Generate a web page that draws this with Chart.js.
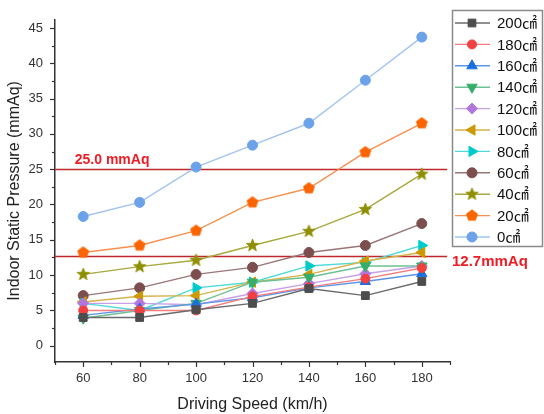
<!DOCTYPE html>
<html><head><meta charset="utf-8">
<script src="https://cdn.jsdelivr.net/npm/chart.js@4/dist/chart.umd.min.js"></script>
<style>html,body{margin:0;padding:0;background:#fff}#wrap{width:544px;height:414px}</style>
</head><body><div id="wrap"><canvas id="c" width="544" height="414"></canvas></div>
<script>
// ---- data ----
const speeds = [60, 80, 100, 120, 140, 160, 180];
const seriesNames = ['200㎠','180㎠','160㎠','140㎠','120㎠','100㎠','80㎠','60㎠','40㎠','20㎠','0㎠'];
const s200 = [4.0, 4.0, 5.1, 6.0, 8.1, 7.1, 9.1];
const s180 = [5.0, 5.0, 5.0, 7.0, 8.3, 9.5, 11.0];
const s160 = [4.3, 5.2, 5.9, 6.8, 8.2, 9.1, 10.2];
const s140 = [3.9, 5.0, 6.0, 9.0, 9.7, 11.3, 11.3];
const s120 = [6.0, 6.0, 5.8, 7.4, 8.8, 10.2, 11.3];
const s100 = [6.2, 7.0, 7.1, 9.0, 10.1, 12.0, 13.2];
const s80  = [6.0, 5.0, 8.2, 9.0, 11.3, 11.8, 14.2];
const s60  = [7.1, 8.2, 10.1, 11.1, 13.2, 14.2, 17.3];
const s40  = [10.1, 11.2, 12.1, 14.2, 16.2, 19.3, 24.3];
const s20  = [13.2, 14.2, 16.3, 20.3, 22.3, 27.4, 31.5];
const s0   = [18.3, 20.3, 25.3, 28.4, 31.5, 37.6, 43.7];
const xTickLabels = [60, 80, 100, 120, 140, 160, 180];
const yTickLabels = [0, 5, 10, 15, 20, 25, 30, 35, 40, 45];
const refValues = [25.0, 12.7];
const refLabels = ['25.0 mmAq', '12.7mmAq'];

// ---- styles ----
const colors = ['#4d4d4d','#f14040','#1a6fdf','#37ad6b','#b177de','#cc9900','#00cbcc','#7d4e4e','#8e8e00','#fb6501','#6ca2ea'];
const lineColors = ['#6a6a6a','#f37c7c','#5c95e6','#6cc193','#c7a1e6','#d6b24a','#4fd9d9','#9a7676','#a8a83d','#f99050','#a2c4ef'];

function polyCanvas(color, n, rOut, rIn) {
  const c = document.createElement('canvas');
  const s = Math.ceil(rOut * 2 + 2);
  c.width = s; c.height = s;
  const g = c.getContext('2d');
  g.fillStyle = color; g.strokeStyle = color; g.lineWidth = 0.8;
  g.beginPath();
  const pts = rIn ? n * 2 : n;
  for (let i = 0; i < pts; i++) {
    const r = rIn ? (i % 2 ? rIn : rOut) : rOut;
    const a = -Math.PI / 2 + i * 2 * Math.PI / pts;
    const x = s / 2 + r * Math.cos(a), y = s / 2 + r * Math.sin(a);
    i ? g.lineTo(x, y) : g.moveTo(x, y);
  }
  g.closePath(); g.fill(); g.stroke();
  return c;
}
const starImg = polyCanvas('#8e8e00', 5, 6.5, 2.8);
const pentImg = polyCanvas('#fb6501', 5, 5.8, 0);

const styles = [
  {ps:'rect', r:5.5, rot:0},
  {ps:'circle', r:4.5, rot:0},
  {ps:'triangle', r:6, rot:0},
  {ps:'triangle', r:6, rot:180},
  {ps:'rectRot', r:5.5, rot:0},
  {ps:'triangle', r:6, rot:-90},
  {ps:'triangle', r:6, rot:90},
  {ps:'circle', r:5, rot:0},
  {ps:starImg, r:6, rot:0},
  {ps:pentImg, r:6, rot:0},
  {ps:'circle', r:5, rot:0}
];
const allSeries = [s200, s180, s160, s140, s120, s100, s80, s60, s40, s20, s0];

const datasets = allSeries.map((vals, i) => ({
  label: seriesNames[i],
  data: speeds.map((x, j) => ({x: x, y: vals[j]})),
  borderColor: lineColors[i],
  backgroundColor: colors[i],
  borderWidth: 1.4,
  pointStyle: styles[i].ps,
  pointRadius: styles[i].r,
  pointRotation: styles[i].rot,
  pointBackgroundColor: colors[i],
  pointBorderColor: colors[i],
  pointBorderWidth: 1,
  tension: 0
}));

const FONT = "'Liberation Sans', Arial, 'Noto Sans CJK KR', sans-serif";

const decor = {
  id: 'decor',
  beforeDatasetsDraw(chart) {
    const {ctx} = chart; const xs = chart.scales.x, ys = chart.scales.y;
    ctx.save();
    ctx.strokeStyle = '#c0282d'; ctx.lineWidth = 1.5;
    refValues.forEach(v => {
      const y = Math.round(ys.getPixelForValue(v)) + 0.5;
      ctx.beginPath();
      ctx.moveTo(xs.getPixelForValue(xs.min), y);
      ctx.lineTo(xs.getPixelForValue(189), y);
      ctx.stroke();
    });
    ctx.restore();
  },
  afterDraw(chart) {
    const {ctx, chartArea} = chart; const xs = chart.scales.x, ys = chart.scales.y;
    ctx.save();
    // ticks
    ctx.strokeStyle = '#333'; ctx.lineWidth = 1.2;
    for (let v = 50; v <= 190; v += 10) {
      const x = Math.round(xs.getPixelForValue(v)) + 0.5;
      const len = (v % 20 === 0) ? 5 : 3;
      ctx.beginPath(); ctx.moveTo(x, chartArea.bottom); ctx.lineTo(x, chartArea.bottom + len); ctx.stroke();
    }
    for (let v = 0; v <= 45; v += 2.5) {
      const y = Math.round(ys.getPixelForValue(v)) + 0.5;
      const len = (v % 5 === 0) ? 5 : 3;
      ctx.beginPath(); ctx.moveTo(chartArea.left - len, y); ctx.lineTo(chartArea.left, y); ctx.stroke();
    }
    // reference labels
    ctx.fillStyle = '#ee1c25';
    ctx.font = 'bold 14px ' + FONT;
    ctx.textAlign = 'left'; ctx.textBaseline = 'alphabetic';
    ctx.fillText(refLabels[0], xs.getPixelForValue(57), ys.getPixelForValue(refValues[0]) - 5);
    ctx.font = 'bold 15px ' + FONT;
    ctx.textBaseline = 'middle';
    ctx.fillText(refLabels[1], chartArea.right + 2, ys.getPixelForValue(refValues[1]) + 6);
    // legend
    const lx = 452, ly = 10, lw = 90, lh = 236;
    ctx.fillStyle = '#fff';
    ctx.fillRect(lx, ly, lw, lh);
    ctx.strokeStyle = '#8a8a8a'; ctx.lineWidth = 1.5;
    ctx.strokeRect(lx + 0.5, ly + 0.5, lw, lh);
    chart.data.datasets.forEach((ds, i) => {
      const cy = 23 + i * 21.4;
      ctx.strokeStyle = ds.borderColor; ctx.lineWidth = 1.4;
      ctx.beginPath(); ctx.moveTo(lx + 3, cy); ctx.lineTo(lx + 38, cy); ctx.stroke();
      ctx.fillStyle = ds.pointBackgroundColor; ctx.strokeStyle = ds.pointBorderColor; ctx.lineWidth = 1;
      Chart.helpers.drawPoint(ctx, {pointStyle: ds.pointStyle, radius: ds.pointRadius, rotation: ds.pointRotation, borderWidth: 1}, lx + 20, cy);
      ctx.fillStyle = '#111';
      ctx.font = '15px ' + FONT;
      ctx.textAlign = 'left'; ctx.textBaseline = 'middle';
      ctx.fillText(ds.label, lx + 45, cy + 1);
    });
    ctx.restore();
  }
};

new Chart(document.getElementById('c'), {
  type: 'line',
  data: {datasets},
  plugins: [decor],
  options: {
    responsive: false, animation: false, devicePixelRatio: 1,
    layout: {padding: {top: 18, right: 94, left: 0, bottom: 0}},
    plugins: {legend: {display: false}, tooltip: {enabled: false}},
    scales: {
      x: {
        type: 'linear', min: 50, max: 190,
        afterBuildTicks: s => { s.ticks = xTickLabels.map(v => ({value: v})); },
        afterFit: s => { s.height = 52; },
        grid: {display: true, drawOnChartArea: false, drawTicks: false},
        border: {display: true, color: '#333', width: 1.5},
        ticks: {autoSkip: false, maxRotation: 0, padding: 9, color: '#333', font: {family: FONT, size: 13}},
        title: {display: true, text: 'Driving Speed (km/h)', color: '#222', font: {family: FONT, size: 16}, padding: {top: 0, bottom: 0}}
      },
      y: {
        type: 'linear', min: -2.3, max: 46.15,
        afterBuildTicks: s => { s.ticks = yTickLabels.map(v => ({value: v})); },
        afterFit: s => { s.width = 55; },
        grid: {display: true, drawOnChartArea: false, drawTicks: false},
        border: {display: true, color: '#333', width: 1.5},
        ticks: {autoSkip: false, padding: 12, color: '#333', font: {family: FONT, size: 13}},
        title: {display: true, text: 'Indoor Static Pressure (mmAq)', color: '#222', font: {family: FONT, size: 16}, padding: {top: 5, bottom: 0}}
      }
    }
  }
});
</script></body></html>
